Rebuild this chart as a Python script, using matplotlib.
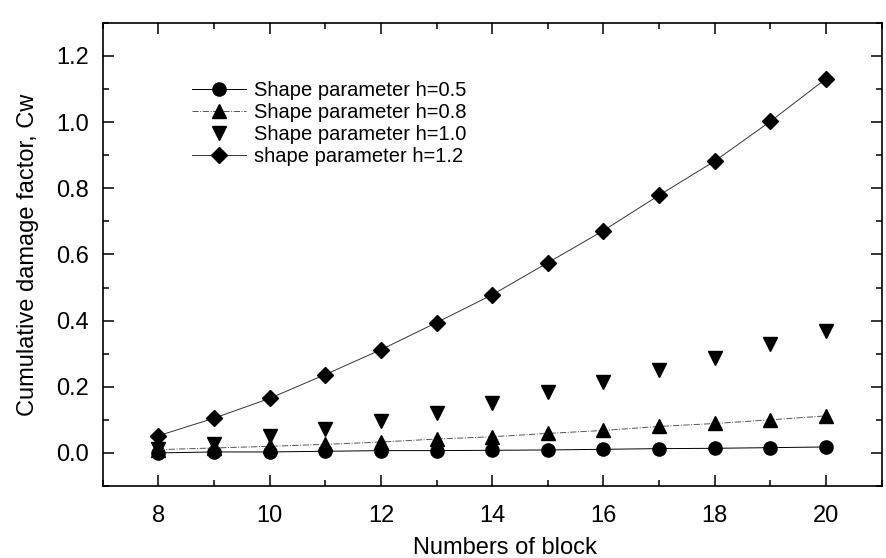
import matplotlib
matplotlib.use('Agg')
import matplotlib.pyplot as plt
from matplotlib.ticker import MultipleLocator, FormatStrFormatter

plt.rcParams['font.family'] = ['Liberation Sans', 'DejaVu Sans']

blocks = [8, 9, 10, 11, 12, 13, 14, 15, 16, 17, 18, 19, 20]
cw_h05 = [0.000, 0.003, 0.003, 0.005, 0.007, 0.007, 0.008, 0.009, 0.011, 0.013, 0.014, 0.016, 0.018]
cw_h08 = [0.010, 0.015, 0.020, 0.026, 0.033, 0.042, 0.049, 0.059, 0.068, 0.080, 0.089, 0.100, 0.112]
cw_h10 = [0.013, 0.028, 0.050, 0.073, 0.097, 0.122, 0.152, 0.183, 0.215, 0.250, 0.287, 0.329, 0.370]
cw_h12 = [0.052, 0.105, 0.165, 0.237, 0.312, 0.394, 0.478, 0.575, 0.672, 0.779, 0.882, 1.002, 1.131]

labels = ['Shape parameter h=0.5', 'Shape parameter h=0.8',
          'Shape parameter h=1.0', 'shape parameter h=1.2']

fig = plt.figure(figsize=(8.86, 5.58), dpi=100)
ax = fig.add_axes([0.116, 0.129, 0.879, 0.83])

ax.plot(blocks, cw_h05, '-', color='black', lw=0.7, marker='o', ms=9.5, label=labels[0])
ax.plot(blocks, cw_h08, '-.', color='#555555', lw=0.7, marker='^', ms=10, mfc='black', mec='black', label=labels[1])
ax.plot(blocks, cw_h10, linestyle='none', marker='v', ms=10, color='black', label=labels[2])
ax.plot(blocks, cw_h12, '-', color='#333333', lw=0.7, marker='D', ms=8.5, mfc='black', mec='black', label=labels[3])

ax.set_xlim(7, 21)
ax.set_ylim(-0.1, 1.3)
ax.xaxis.set_major_locator(MultipleLocator(2))
ax.xaxis.set_minor_locator(MultipleLocator(1))
ax.yaxis.set_major_locator(MultipleLocator(0.2))
ax.yaxis.set_minor_locator(MultipleLocator(0.1))
ax.yaxis.set_major_formatter(FormatStrFormatter('%.1f'))

ax.tick_params(which='both', direction='in', top=True, right=True, width=1.1, labelsize=17)
ax.tick_params(which='major', length=8)
ax.tick_params(which='minor', length=4)
ax.tick_params(axis='x', which='major', pad=14)
ax.tick_params(axis='y', which='major', pad=10)
for s in ax.spines.values():
    s.set_linewidth(1.2)

ax.set_xlabel('Numbers of block', fontsize=17)
ax.set_ylabel('Cumulative damage factor, Cw', fontsize=17)
ax.xaxis.set_label_coords(0.517, -0.11)
ax.yaxis.set_label_coords(-0.082, 0.5)

ax.legend(loc='upper left', bbox_to_anchor=(0.115, 0.875), frameon=False,
          fontsize=14.5, handlelength=2.65, handletextpad=0.4, labelspacing=0.16,
          borderpad=0, borderaxespad=0)

fig.savefig('out.png', dpi=100)
